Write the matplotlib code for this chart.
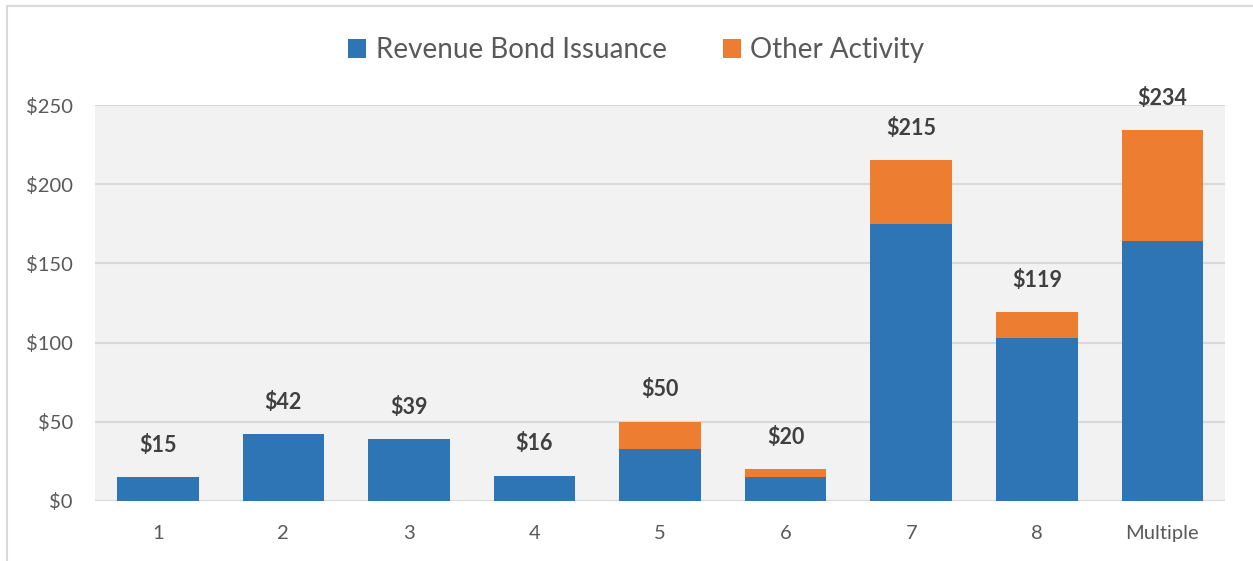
import matplotlib.pyplot as plt
from matplotlib.patches import Rectangle
import numpy as np

categories = ['1', '2', '3', '4', '5', '6', '7', '8', 'Multiple']
revenue_bond = [15, 42, 39, 16, 33, 15, 175, 103, 164]
other_activity = [0, 0, 0, 0, 17, 5, 40, 16, 70]
totals = [15, 42, 39, 16, 50, 20, 215, 119, 234]

BLUE = '#2E75B6'
ORANGE = '#ED7D31'
TEXT = '#595959'

plt.rcParams['font.family'] = ['Lato', 'DejaVu Sans']

fig = plt.figure(figsize=(12.53, 5.61), dpi=100, facecolor='white')
ax = fig.add_axes([0.0758, 0.107, 0.902, 0.7058])
ax.set_facecolor('#F2F2F2')

# outer chart border (right and bottom edges fall outside the image)
fig.patches.append(Rectangle((0.0056, -0.05), 1.05, 1.04, transform=fig.transFigure,
                             fill=False, edgecolor='#D9D9D9', linewidth=1.5))

x = np.arange(len(categories))
ax.bar(x, revenue_bond, width=0.65, color=BLUE, label='Revenue Bond Issuance', zorder=3)
ax.bar(x, other_activity, width=0.65, bottom=revenue_bond, color=ORANGE,
       label='Other Activity', zorder=3)

for xi, t in zip(x, totals):
    ax.annotate(f'${t}', (xi, t), xytext=(0, 23), textcoords='offset points',
                ha='center', va='center', fontsize=15.5, fontweight='bold', color='#404040')

ax.set_xlim(-0.5, len(categories) - 0.5)
ax.set_ylim(0, 250)
ax.set_yticks(range(0, 251, 50))
ax.yaxis.set_major_formatter(plt.FuncFormatter(lambda v, p: f'${v:,.0f}'))
ax.set_xticks(x)
ax.set_xticklabels(categories)
ax.grid(axis='y', color='#D9D9D9', linewidth=1.5, zorder=0)
ax.tick_params(length=0, labelsize=14.5, colors=TEXT)
ax.tick_params(axis='x', pad=17)
ax.tick_params(axis='y', pad=16)
for s in ax.spines.values():
    s.set_visible(False)

ax.legend(loc='lower center', bbox_to_anchor=(0.479, 1.042), ncol=2, frameon=False,
          fontsize=20, handlelength=0.65, handleheight=0.65, handletextpad=0.35,
          columnspacing=2.0, labelcolor=TEXT)

plt.savefig('out.png', dpi=100, facecolor='white')
